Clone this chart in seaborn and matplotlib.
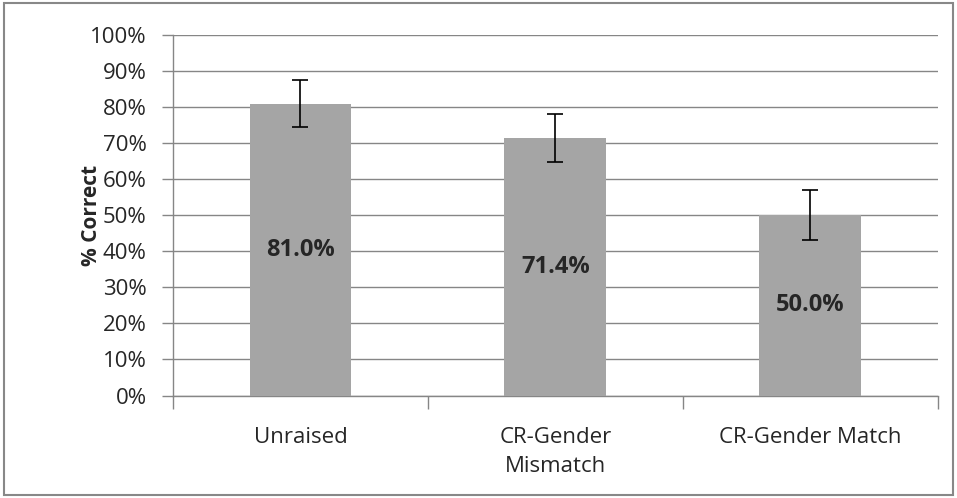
import matplotlib
matplotlib.use("Agg")
import matplotlib.pyplot as plt
import seaborn as sns
import pandas as pd
from matplotlib.patches import Rectangle
from matplotlib.ticker import PercentFormatter

categories = ["Unraised", "CR-Gender\nMismatch", "CR-Gender Match"]
pct_correct = [81.0, 71.4, 50.0]
err = [6.4, 6.6, 6.9]
y_ticks = list(range(0, 101, 10))

df = pd.DataFrame({"cond": categories, "pct": pct_correct})

sns.set_style("white")
plt.rcParams["font.family"] = ["Open Sans", "DejaVu Sans"]

fig = plt.figure(figsize=(9.57, 4.98), dpi=100)
ax = fig.add_axes([0.1808, 0.2058, 0.7992, 0.7239])

sns.barplot(data=df, x="cond", y="pct", color="#a5a5a5", saturation=1,
            width=0.4, errorbar=None, ax=ax, zorder=3, edgecolor="none")
ax.errorbar(range(len(categories)), pct_correct, yerr=err, fmt="none",
            ecolor="black", elinewidth=1.2, capsize=6, capthick=1.2, zorder=4)

for i, v in enumerate(pct_correct):
    ax.text(i, v / 2, f"{v:.1f}%", ha="center", va="center",
            fontsize=17, fontweight="bold", zorder=5)

ax.set_ylim(0, 100)
ax.set_xlim(-0.5, 2.5)
ax.set_yticks(y_ticks)
ax.yaxis.set_major_formatter(PercentFormatter(decimals=0))
ax.grid(axis="y", color="#868686", linewidth=1, zorder=0)
ax.set_axisbelow(True)

ax.set_xticks([-0.5, 0.5, 1.5, 2.5], minor=False)
ax.set_xticklabels([])
ax.set_xticks([0, 1, 2], minor=True)
ax.set_xticklabels(categories, minor=True, fontsize=16, linespacing=1.5)
ax.tick_params(axis="x", which="major", bottom=True, length=9, color="#868686", width=1)
ax.tick_params(axis="x", which="minor", bottom=True, length=0, pad=23)
ax.tick_params(axis="y", left=True, length=8, color="#868686", width=1, labelsize=16, pad=11)

for s in ["top", "right"]:
    ax.spines[s].set_visible(False)
for s in ["left", "bottom"]:
    ax.spines[s].set_color("#868686")
    ax.spines[s].set_linewidth(1)

ax.set_xlabel("")
ax.set_ylabel("% Correct", fontsize=15, fontweight="bold")
ax.yaxis.set_label_coords(-0.093, 0.5)

fig.patches.append(Rectangle((0.004, 0.006), 0.992, 0.988, transform=fig.transFigure,
                             fill=False, edgecolor="#888888", linewidth=1.5))

fig.savefig("out.png", dpi=100)
